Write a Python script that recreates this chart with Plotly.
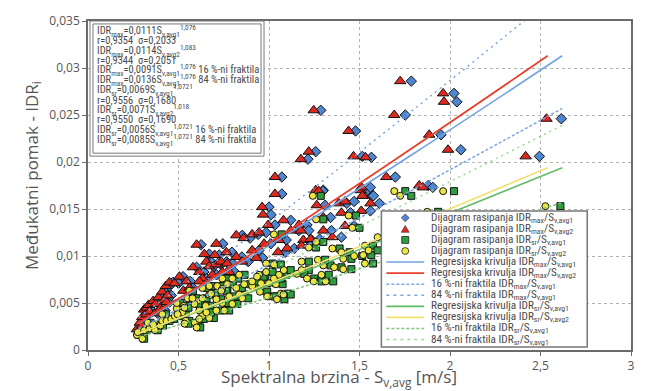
import plotly.graph_objects as go

# ---------------- data ----------------
# IDR_max scatter: drift value, and spectral velocity S_v,avg1 (diamonds) / S_v,avg2 (triangles)
idr_max = [0.0022, 0.0029, 0.0026, 0.0035, 0.0043, 0.0038, 0.0045, 0.0048, 0.0041, 0.0052,
           0.0039, 0.0049, 0.0056, 0.0044, 0.0042, 0.0062, 0.0053, 0.0051, 0.0068, 0.0058,
           0.0072, 0.0071, 0.0078, 0.0063, 0.0073, 0.0066, 0.0083, 0.0076, 0.0094, 0.0073,
           0.0089, 0.0091, 0.0080, 0.0094, 0.0092, 0.0083, 0.0083, 0.0102, 0.0101, 0.0113,
           0.0104, 0.0099, 0.0094, 0.0122, 0.0123, 0.0125, 0.0113, 0.0106, 0.0117, 0.0104,
           0.0127, 0.0152, 0.0144, 0.0133, 0.0184, 0.0166, 0.0133, 0.0127, 0.0141, 0.0127,
           0.0117, 0.0118, 0.0111, 0.0132, 0.0156, 0.0158, 0.0146, 0.0170, 0.0164, 0.0148,
           0.0156, 0.0170, 0.0154, 0.0203, 0.0211, 0.0255, 0.0233, 0.0206, 0.0205, 0.0250,
           0.0286, 0.0273, 0.0264, 0.0229, 0.0213, 0.0206, 0.0246, 0.0184, 0.0175, 0.0173,
           0.0173, 0.0164, 0.0169, 0.0108, 0.0119, 0.0112, 0.0088, 0.0098, 0.0138, 0.0120,
           0.0140, 0.0130]
s_max_avg2 = [0.270, 0.286, 0.300, 0.300, 0.310, 0.320, 0.324, 0.335, 0.340, 0.360,
              0.370, 0.374, 0.390, 0.400, 0.410, 0.410, 0.420, 0.434, 0.430, 0.440,
              0.450, 0.478, 0.505, 0.527, 0.544, 0.560, 0.615, 0.632, 0.654, 0.615,
              0.670, 0.709, 0.687, 0.736, 0.769, 0.742, 0.780, 0.643, 0.700, 0.709,
              0.764, 0.819, 0.852, 0.819, 0.907, 0.945, 0.973, 0.907, 1.055, 1.050,
              1.120, 0.962, 0.967, 0.995, 1.033, 1.033, 1.165, 1.176, 1.300, 1.300,
              1.190, 1.230, 1.180, 1.420, 1.385, 1.420, 1.400, 1.505, 1.520, 1.510,
              1.560, 1.258, 1.264, 1.176, 1.220, 1.247, 1.440, 1.467, 1.533, 1.692,
              1.725, 1.962, 1.967, 1.885, 1.989, 2.418, 2.533, 1.648, 1.830, 1.850,
              1.511, 1.516, 1.275, 1.100, 0.860, 0.600, 0.580, 0.930, 1.080, 1.350,
              1.800, 1.700]
s_max_avg1 = [0.280, 0.300, 0.310, 0.315, 0.325, 0.335, 0.340, 0.350, 0.355, 0.375,
              0.385, 0.390, 0.405, 0.415, 0.425, 0.430, 0.440, 0.450, 0.450, 0.460,
              0.470, 0.500, 0.525, 0.550, 0.565, 0.580, 0.640, 0.655, 0.680, 0.640,
              0.695, 0.735, 0.710, 0.765, 0.800, 0.770, 0.810, 0.670, 0.725, 0.745,
              0.795, 0.850, 0.885, 0.852, 0.940, 0.984, 1.010, 0.945, 1.095, 1.090,
              1.165, 1.000, 1.011, 1.033, 1.071, 1.071, 1.210, 1.220, 1.340, 1.345,
              1.235, 1.280, 1.225, 1.470, 1.430, 1.470, 1.450, 1.550, 1.570, 1.560,
              1.610, 1.300, 1.310, 1.215, 1.258, 1.286, 1.478, 1.516, 1.566, 1.753,
              1.786, 2.022, 2.038, 1.950, 2.060, 2.494, 2.615, 1.698, 1.880, 1.905,
              1.560, 1.577, 1.297, 1.140, 0.895, 0.625, 0.600, 0.965, 1.120, 1.400,
              1.860, 1.760]

# IDR_sr scatter: drift value, and S_v,avg1 (squares) / S_v,avg2 (circles)
idr_sr = [0.0016, 0.0019, 0.0012, 0.0021, 0.0023, 0.0029, 0.0021, 0.0027, 0.0026, 0.0031,
          0.0031, 0.0038, 0.0033, 0.0036, 0.0044, 0.0040, 0.0031, 0.0038, 0.0029, 0.0024,
          0.0042, 0.0036, 0.0047, 0.0052, 0.0050, 0.0047, 0.0055, 0.0063, 0.0045, 0.0028,
          0.0049, 0.0033, 0.0034, 0.0040, 0.0042, 0.0042, 0.0050, 0.0049, 0.0054, 0.0059,
          0.0055, 0.0055, 0.0066, 0.0068, 0.0068, 0.0065, 0.0070, 0.0057, 0.0059, 0.0066,
          0.0055, 0.0070, 0.0068, 0.0080, 0.0092, 0.0091, 0.0080, 0.0073, 0.0071, 0.0071,
          0.0070, 0.0057, 0.0054, 0.0060, 0.0076, 0.0076, 0.0080, 0.0078, 0.0083, 0.0076,
          0.0085, 0.0063, 0.0060, 0.0123, 0.0059, 0.0109, 0.0115, 0.0143, 0.0130, 0.0104,
          0.0097, 0.0086, 0.0111, 0.0101, 0.0092, 0.0094, 0.0085, 0.0081, 0.0076, 0.0073,
          0.0080, 0.0073, 0.0164, 0.0139, 0.0169, 0.0164, 0.0169, 0.0153, 0.0147, 0.0108,
          0.0090, 0.0088, 0.0100, 0.0106, 0.0096, 0.0120, 0.0125, 0.0135, 0.0118, 0.0140,
          0.0057, 0.0062]
s_sr_avg2 = [0.270, 0.275, 0.300, 0.310, 0.340, 0.330, 0.370, 0.360, 0.400, 0.410,
             0.434, 0.410, 0.460, 0.480, 0.490, 0.520, 0.540, 0.495, 0.590, 0.600,
             0.615, 0.630, 0.650, 0.600, 0.490, 0.530, 0.550, 0.560, 0.533, 0.533,
             0.588, 0.615, 0.670, 0.654, 0.709, 0.753, 0.742, 0.797, 0.709, 0.670,
             0.632, 0.577, 0.632, 0.670, 0.714, 0.742, 0.769, 0.780, 0.835, 0.819,
             0.852, 0.863, 0.907, 0.945, 0.984, 1.027, 1.055, 0.907, 0.956, 1.000,
             1.038, 1.000, 1.044, 1.066, 0.797, 0.742, 0.835, 0.934, 0.984, 1.027,
             1.082, 0.736, 0.680, 1.027, 1.080, 1.220, 1.260, 1.440, 1.460, 1.400,
             1.410, 1.410, 1.530, 1.520, 1.530, 1.180, 1.180, 1.154, 1.210, 1.247,
             1.290, 1.313, 1.242, 1.260, 1.692, 1.725, 1.962, 2.527, 1.874, 1.350,
             1.300, 1.360, 1.470, 1.550, 1.270, 1.600, 1.750, 2.050, 1.900, 2.200,
             0.990, 0.950]
s_sr_avg1 = [0.280, 0.290, 0.310, 0.325, 0.355, 0.345, 0.385, 0.375, 0.415, 0.425,
             0.450, 0.430, 0.475, 0.500, 0.510, 0.540, 0.560, 0.515, 0.610, 0.620,
             0.640, 0.655, 0.675, 0.625, 0.510, 0.550, 0.570, 0.580, 0.555, 0.555,
             0.610, 0.640, 0.695, 0.680, 0.735, 0.780, 0.770, 0.825, 0.735, 0.695,
             0.655, 0.600, 0.655, 0.695, 0.740, 0.770, 0.800, 0.810, 0.865, 0.850,
             0.885, 0.895, 0.940, 0.980, 1.020, 1.065, 1.095, 0.940, 0.990, 1.040,
             1.075, 1.040, 1.085, 1.105, 0.830, 0.770, 0.865, 0.970, 1.020, 1.065,
             1.120, 0.765, 0.705, 1.070, 1.120, 1.260, 1.300, 1.480, 1.500, 1.445,
             1.455, 1.455, 1.575, 1.565, 1.575, 1.220, 1.220, 1.195, 1.250, 1.290,
             1.330, 1.355, 1.286, 1.300, 1.753, 1.786, 2.022, 2.610, 1.934, 1.390,
             1.340, 1.400, 1.515, 1.600, 1.310, 1.650, 1.800, 2.120, 1.960, 2.270,
             1.030, 0.990]

# regression / fractile curves
curve_s_avg1 = [0.28, 1.00, 1.80, 2.62]
curve_s_avg2 = [0.27, 1.00, 1.80, 2.54]
reg_max_avg1 = [0.0028, 0.0111, 0.0209, 0.0313]
reg_max_avg2 = [0.0028, 0.0114, 0.0216, 0.0313]
frac16_max = [0.0023, 0.0091, 0.0171, 0.0257]
frac84_max = [0.0035, 0.0136, 0.0256, 0.0383]
reg_sr_avg1 = [0.0018, 0.0069, 0.0130, 0.0194]
reg_sr_avg2 = [0.0017, 0.0071, 0.0134, 0.0194]
frac16_sr = [0.0014, 0.0056, 0.0105, 0.0157]
frac84_sr = [0.0022, 0.0085, 0.0160, 0.0239]

legend_labels = [
    "Dijagram rasipanja IDR<sub>max</sub>/S<sub>v,avg1</sub>",
    "Dijagram rasipanja IDR<sub>max</sub>/S<sub>v,avg2</sub>",
    "Dijagram rasipanja IDR<sub>sr</sub>/S<sub>v,avg1</sub>",
    "Dijagram rasipanja IDR<sub>sr</sub>/S<sub>v,avg2</sub>",
    "Regresijska krivulja IDR<sub>max</sub>/S<sub>v,avg1</sub>",
    "Regresijska krivulja IDR<sub>max</sub>/S<sub>v,avg2</sub>",
    "16 %-ni fraktila IDR<sub>max</sub>/S<sub>v,avg1</sub>",
    "84 %-ni fraktila IDR<sub>max</sub>/S<sub>v,avg1</sub>",
    "Regresijska krivulja IDR<sub>sr</sub>/S<sub>v,avg1</sub>",
    "Regresijska krivulja IDR<sub>sr</sub>/S<sub>v,avg2</sub>",
    "16 %-ni fraktila IDR<sub>sr</sub>/S<sub>v,avg1</sub>",
    "84 %-ni fraktila IDR<sub>sr</sub>/S<sub>v,avg1</sub>",
]

box_lines = [
    "IDR<sub>max</sub>=0,0111S<sub>v,avg1</sub><sup>1,076</sup>",
    "r=0,9354  σ=0,2033",
    "IDR<sub>max</sub>=0,0114S<sub>v,avg2</sub><sup>1,083</sup>",
    "r=0,9344  σ=0,2051",
    "IDR<sub>max</sub>=0,0091S<sub>v,avg1</sub><sup>1,076</sup> 16 %-ni fraktila",
    "IDR<sub>max</sub>=0,0136S<sub>v,avg1</sub><sup>1,076</sup> 84 %-ni fraktila",
    "IDR<sub>sr</sub>=0,0069S<sub>v,avg1</sub><sup>1,0721</sup>",
    "r=0,9556  σ=0,1680",
    "IDR<sub>sr</sub>=0,0071S<sub>v,avg2</sub><sup>1,018</sup>",
    "r=0,9550  σ=0,1690",
    "IDR<sub>sr</sub>=0,0056S<sub>v,avg1</sub><sup>1,0721</sup> 16 %-ni fraktila",
    "IDR<sub>sr</sub>=0,0085S<sub>v,avg1</sub><sup>1,0721</sup> 84 %-ni fraktila",
]

# ---------------- styling ----------------
C_DIA = "#4f86d2"
C_TRI = "#e0291e"
C_SQ = "#2f9c3f"
C_CIR = "#ede63f"
C_REG_MAX1 = "#72a2e0"
C_REG_MAX2 = "#e8402c"
C_FR_MAX = "#7aa6df"
C_REG_SR1 = "#62bb66"
C_REG_SR2 = "#f0e070"
C_FR_SR = "#7cc67a"
TXT = "#4a4a4a"
NARROW = "Liberation Sans Narrow, Roboto Condensed, DejaVu Sans Condensed, Arial Narrow, sans-serif"
MAIN = "Open Sans, Noto Sans, sans-serif"

W, H = 647, 391
L, R, T, B = 88, 634, 14, 350


def pxx(x):
    return (x - L) / (R - L)


def pyy(y):
    return (B - y) / (B - T)


fig = go.Figure()

mk_line = dict(color="#111111", width=1)
fig.add_trace(go.Scatter(x=s_max_avg1, y=idr_max, mode="markers",
                         marker=dict(symbol="diamond", size=8, color=C_DIA, line=mk_line)))
fig.add_trace(go.Scatter(x=s_max_avg2, y=idr_max, mode="markers",
                         marker=dict(symbol="triangle-up", size=10, color=C_TRI, line=mk_line)))
fig.add_trace(go.Scatter(x=s_sr_avg1, y=idr_sr, mode="markers",
                         marker=dict(symbol="square", size=7, color=C_SQ, line=mk_line)))
fig.add_trace(go.Scatter(x=s_sr_avg2, y=idr_sr, mode="markers",
                         marker=dict(symbol="circle", size=7, color=C_CIR, line=mk_line)))

curves = [
    (curve_s_avg1, reg_max_avg1, C_REG_MAX1, "solid", 1.6),
    (curve_s_avg2, reg_max_avg2, C_REG_MAX2, "solid", 1.8),
    (curve_s_avg1, frac16_max, C_FR_MAX, "3px,2px", 1.5),
    (curve_s_avg1, frac84_max, C_FR_MAX, "2px,4px", 1.5),
    (curve_s_avg1, reg_sr_avg1, C_REG_SR1, "solid", 1.6),
    (curve_s_avg2, reg_sr_avg2, C_REG_SR2, "solid", 1.6),
    (curve_s_avg1, frac16_sr, C_FR_SR, "3px,2px", 1.5),
    (curve_s_avg1, frac84_sr, "#9fd49a", "2px,4px", 1.5),
]
for xs, ys, col, dash, w in curves:
    fig.add_trace(go.Scatter(x=xs, y=ys, mode="lines", line=dict(color=col, dash=dash, width=w, shape="spline")))

shapes = []
annotations = []

# ---- formula box (top-left) ----
shapes.append(dict(type="rect", xref="paper", yref="paper", x0=pxx(90), x1=pxx(265), y0=pyy(152), y1=pyy(14),
                   fillcolor="white", line=dict(color="#777777", width=1), layer="above"))
shapes.append(dict(type="rect", xref="paper", yref="paper", x0=pxx(93), x1=pxx(262), y0=pyy(149), y1=pyy(17),
                   fillcolor="rgba(0,0,0,0)", line=dict(color="#777777", width=1), layer="above"))
for i, t in enumerate(box_lines):
    annotations.append(dict(xref="paper", yref="paper", x=pxx(95), y=pyy(24 + i * 10.1), text=t,
                            showarrow=False, xanchor="left", yanchor="middle",
                            font=dict(family=NARROW, size=10.5, color=TXT)))

# ---- legend box (bottom-right) ----
shapes.append(dict(type="rect", xref="paper", yref="paper", x0=pxx(383), x1=pxx(590), y0=pyy(347), y1=pyy(208),
                   fillcolor="white", line=dict(color="#777777", width=1.5), layer="above"))
rows = [215 + 11.3 * i for i in range(12)]
cx = 407


def path(points):
    s = "M " + " L ".join(f"{pxx(a):.5f},{pyy(b):.5f}" for a, b in points) + " Z"
    return s


# markers
cy = rows[0]
shapes.append(dict(type="path", xref="paper", yref="paper",
                   path=path([(cx - 4, cy), (cx, cy - 4), (cx + 4, cy), (cx, cy + 4)]),
                   fillcolor=C_DIA, line=dict(color="#333", width=0.6), layer="above"))
cy = rows[1]
shapes.append(dict(type="path", xref="paper", yref="paper",
                   path=path([(cx - 4, cy + 3.5), (cx + 4, cy + 3.5), (cx, cy - 3.5)]),
                   fillcolor=C_TRI, line=dict(color="#333", width=0.6), layer="above"))
cy = rows[2]
shapes.append(dict(type="rect", xref="paper", yref="paper", x0=pxx(cx - 3.5), x1=pxx(cx + 3.5),
                   y0=pyy(cy + 3.5), y1=pyy(cy - 3.5),
                   fillcolor=C_SQ, line=dict(color="#222", width=0.8), layer="above"))
cy = rows[3]
shapes.append(dict(type="circle", xref="paper", yref="paper", x0=pxx(cx - 3.5), x1=pxx(cx + 3.5),
                   y0=pyy(cy + 3.5), y1=pyy(cy - 3.5),
                   fillcolor=C_CIR, line=dict(color="#222", width=0.8), layer="above"))
leg_lines = [
    (C_REG_MAX1, "solid"), (C_REG_MAX2, "solid"), (C_FR_MAX, "3px,2px"), (C_FR_MAX, "3px,4px"),
    (C_REG_SR1, "solid"), (C_REG_SR2, "solid"), (C_FR_SR, "3px,2px"), ("#9fd49a", "3px,4px"),
]
for k, (col, dash) in enumerate(leg_lines):
    cy = rows[4 + k]
    shapes.append(dict(type="line", xref="paper", yref="paper", x0=pxx(388), x1=pxx(426), y0=pyy(cy), y1=pyy(cy),
                       line=dict(color=col, width=1.6, dash=dash), layer="above"))
for k, t in enumerate(legend_labels):
    annotations.append(dict(xref="paper", yref="paper", x=pxx(431), y=pyy(rows[k]), text=t,
                            showarrow=False, xanchor="left", yanchor="middle",
                            font=dict(family=NARROW, size=11.2, color=TXT)))

# axis titles
annotations.append(dict(xref="paper", yref="paper", x=pxx(340), y=pyy(378), text="Spektralna brzina - S<sub>v,avg</sub> [m/s]",
                        showarrow=False, xanchor="center", yanchor="middle",
                        font=dict(family=MAIN, size=17, color="#555555")))
annotations.append(dict(xref="paper", yref="paper", x=pxx(32), y=pyy(172), text="Međukatni pomak - IDR<sub>i</sub>",
                        showarrow=False, xanchor="center", yanchor="middle", textangle=-90,
                        font=dict(family=MAIN, size=17, color="#555555")))

axis_common = dict(showgrid=True, gridcolor="#b3b3b3", gridwidth=1.2, griddash="dot",
                   showline=True, linecolor="#6a6a6a", linewidth=1.5, mirror=True,
                   ticks="outside", ticklen=4, tickcolor="#6a6a6a", zeroline=False,
                   tickfont=dict(family=MAIN, size=12, color="#555555"))

fig.update_layout(
    width=W, height=H,
    margin=dict(l=L, r=W - R, t=T, b=H - B),
    paper_bgcolor="white", plot_bgcolor="white",
    separators=",.",
    showlegend=False,
    xaxis=dict(range=[0, 3], dtick=0.5, **axis_common),
    yaxis=dict(range=[0, 0.035], dtick=0.005, **axis_common),
    shapes=shapes,
    annotations=annotations,
)

fig.write_html("out.html")
